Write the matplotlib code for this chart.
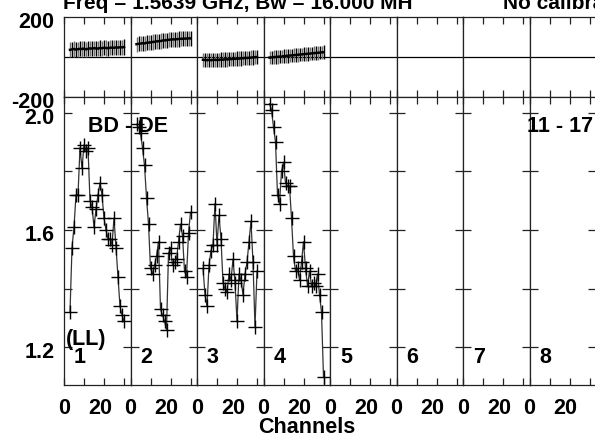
import matplotlib
matplotlib.use('Agg')
import matplotlib.pyplot as plt
from matplotlib.transforms import ScaledTranslation

plt.rcParams['font.family'] = ['Liberation Sans', 'DejaVu Sans']
plt.rcParams['font.weight'] = 'bold'

# ---------------- data ----------------
CHANNELS = list(range(3, 31))
IF_LABELS = ['1', '2', '3', '4', '5', '6', '7', '8']

PHASE_IF1 = [36, 38, 40, 37, 39, 41, 40, 42, 38, 41, 43, 42, 44, 43, 42, 45, 44, 46, 45, 44, 46, 47, 46, 48, 47, 49, 48, 50]
PHASE_IF2 = [64, 66, 67, 69, 68, 71, 72, 73, 75, 76, 78, 79, 80, 82, 83, 84, 86, 87, 88, 88, 89, 90, 91, 91, 92, 92, 93, 93]
PHASE_IF3 = [-14, -15, -16, -15, -16, -15, -14, -15, -14, -13, -13, -12, -12, -11, -10, -10, -9, -8, -8, -7, -6, -5, -5, -4, -3, -2, -1, 0]
PHASE_IF4 = [-3, -2, -1, 0, 1, 2, 2, 4, 5, 6, 7, 8, 9, 10, 11, 12, 13, 14, 15, 16, 17, 18, 19, 20, 21, 22, 23, 24]
PHASE_ERR = [38, 38, 36, 34]

AMP_IF1 = [1.32, 1.54, 1.61, 1.72, 1.72, 1.88, 1.81, 1.89, 1.87, 1.88, 1.70, 1.68, 1.61, 1.67, 1.72, 1.76, 1.72, 1.64, 1.60, 1.57, 1.57, 1.55, 1.64, 1.54, 1.44, 1.34, 1.31, 1.29]
AMP_IF2 = [1.96, 1.95, 1.93, 1.88, 1.82, 1.71, 1.62, 1.47, 1.45, 1.48, 1.51, 1.56, 1.33, 1.31, 1.29, 1.26, 1.52, 1.54, 1.48, 1.49, 1.50, 1.56, 1.62, 1.58, 1.46, 1.44, 1.59, 1.66]
AMP_IF3 = [1.47, 1.38, 1.34, 1.48, 1.53, 1.55, 1.69, 1.55, 1.65, 1.57, 1.42, 1.40, 1.39, 1.45, 1.43, 1.50, 1.42, 1.29, 1.45, 1.43, 1.38, 1.45, 1.49, 1.56, 1.63, 1.49, 1.27, 1.46]
AMP_IF4 = [2.03, 2.01, 1.95, 1.90, 1.72, 1.69, 1.80, 1.83, 1.76, 1.75, 1.75, 1.64, 1.51, 1.46, 1.47, 1.43, 1.49, 1.56, 1.47, 1.41, 1.46, 1.41, 1.42, 1.41, 1.45, 1.38, 1.32, 1.10]

PHASES = [PHASE_IF1, PHASE_IF2, PHASE_IF3, PHASE_IF4]
AMPS = [AMP_IF1, AMP_IF2, AMP_IF3, AMP_IF4]

X_TICKS = [0, 10, 20, 30]
X_TICKLABELS = ['0', '', '20', '']
AMP_TICKS = [1.2, 1.4, 1.6, 1.8, 2.0]
AMP_TICKLABELS = ['1.2', '', '1.6', '', '2.0']
PH_TICKS = [-200, 200]
PH_TICKLABELS = ['-200', '200']

TITLE_A = 'Freq = 1.5639 GHz, Bw = 16.000 MH'
TITLE_B = 'No calibration applied'
BASELINE = 'BD - DE'
TIMERANGE = '11 - 17'
POL = '(LL)'
XLABEL = 'Channels'

# ---------------- layout ----------------
W, H = 595, 440
fig = plt.figure(figsize=(W / 100, H / 100), dpi=100)
FS = 15.5

x0, pw = 64.0, 66.5
ph_top, ph_bot = 17.0, 97.0
am_top, am_bot = 97.0, 385.0

down3 = ScaledTranslation(0, -3 / 100, fig.dpi_scale_trans)
left4 = ScaledTranslation(-4 / 100, 0, fig.dpi_scale_trans)

for i in range(8):
    left = (x0 + i * pw) / W
    axp = fig.add_axes([left, 1 - ph_bot / H, pw / W, (ph_bot - ph_top) / H])
    axa = fig.add_axes([left, 1 - am_bot / H, pw / W, (am_bot - am_top) / H])

    for ax in (axp, axa):
        ax.set_xlim(0, 33.25)
        ax.set_xticks(X_TICKS)
        for s in ax.spines.values():
            s.set_linewidth(0.9)
            s.set_color('#222222')
        ax.tick_params(axis='x', direction='in', top=True, bottom=True,
                       length=5, width=0.9, color='#222222')

    # phase panel
    axp.set_ylim(-200, 200)
    axp.axhline(0, color='black', lw=0.9)
    axp.tick_params(axis='x', labelbottom=False)
    if i == 0:
        axp.set_yticks(PH_TICKS)
        axp.set_yticklabels(PH_TICKLABELS, fontsize=FS, fontweight='bold')
        axp.tick_params(axis='y', length=0, pad=7)
        for lab in axp.get_yticklabels():
            lab.set_transform(lab.get_transform() + down3)
    else:
        axp.set_yticks([])

    # amplitude panel
    axa.set_ylim(1.072, 2.053)
    axa.set_yticks(AMP_TICKS)
    axa.tick_params(axis='y', direction='in', left=True, right=True,
                    length=6, width=0.9, color='#222222', pad=7)
    if i == 0:
        axa.set_yticklabels(AMP_TICKLABELS, fontsize=FS, fontweight='bold')
        for lab in axa.get_yticklabels():
            lab.set_transform(lab.get_transform() + down3)
    else:
        axa.set_yticklabels([])
    axa.set_xticklabels(X_TICKLABELS, fontsize=FS, fontweight='bold')
    axa.tick_params(axis='x', pad=9)
    for lab in axa.get_xticklabels():
        if lab.get_text() == '20':
            lab.set_transform(lab.get_transform() + left4)

    if i < len(AMPS):
        ph = PHASES[i]
        err = PHASE_ERR[i]
        cols = ['0.45', 'black']
        for k in range(2):
            axp.errorbar(CHANNELS[k::2], ph[k::2], yerr=err, fmt='none',
                         ecolor=cols[k], elinewidth=1.0, capsize=0)
        axp.plot(CHANNELS, ph, color='black', lw=1.8)

        axa.plot(CHANNELS, AMPS[i], color='#333333', lw=0.9,
                 marker='+', ms=10, mew=1.0, mec='black')

    fig.text((x0 + i * pw + 10) / W, 1 - 363 / H, IF_LABELS[i],
             fontsize=FS, fontweight='bold', va='baseline', ha='left')

fig.text(63 / W, 1 - 9 / H, TITLE_A, fontsize=15, fontweight='bold',
         va='baseline', ha='left')
fig.text(503 / W, 1 - 9 / H, TITLE_B, fontsize=15, fontweight='bold',
         va='baseline', ha='left')
fig.text(88 / W, 1 - 131.5 / H, BASELINE, fontsize=FS, fontweight='bold',
         va='baseline', ha='left')
fig.text(527 / W, 1 - 131.5 / H, TIMERANGE, fontsize=FS, fontweight='bold',
         va='baseline', ha='left')
fig.text(66 / W, 1 - 345 / H, POL, fontsize=FS, fontweight='bold',
         va='baseline', ha='left')
fig.text(307 / W, 1 - 427 / H, XLABEL, fontsize=FS, fontweight='bold',
         va='center', ha='center')

fig.savefig('out.png', dpi=100)
